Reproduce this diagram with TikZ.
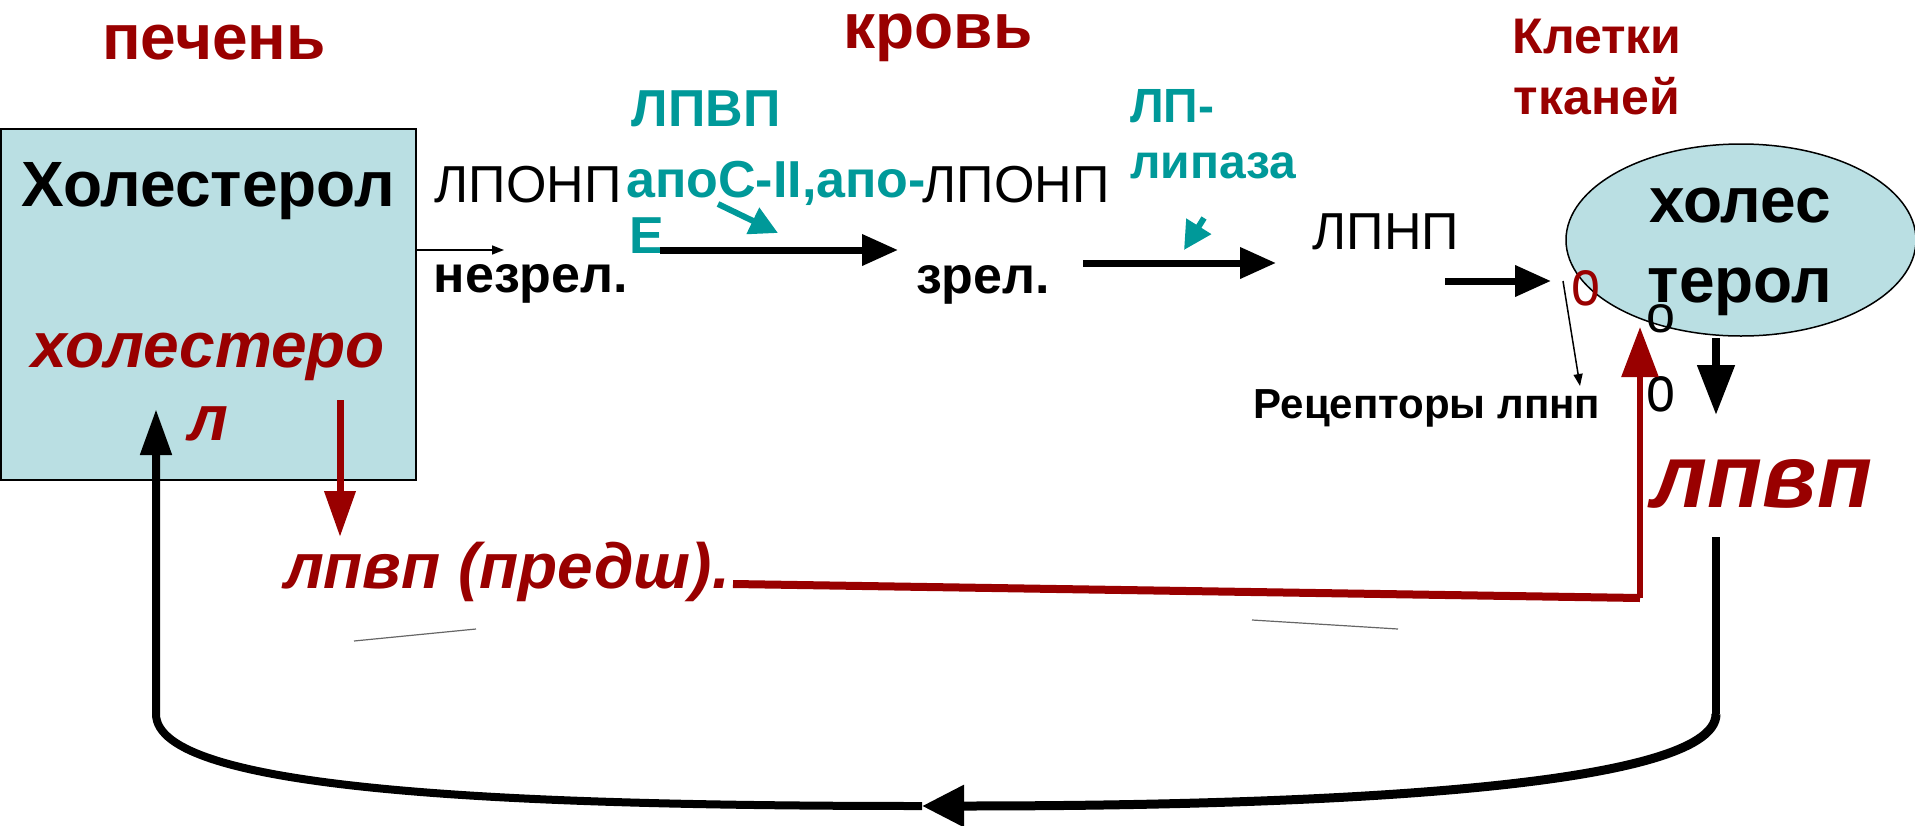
\documentclass[tikz,border=0pt]{standalone}
\usepackage{fontspec}
\usepackage{graphicx}
\setmainfont{Liberation Sans}
\usetikzlibrary{arrows.meta, positioning, shapes.geometric}
\definecolor{liver}   {HTML}{990000}
\definecolor{enzyme}  {HTML}{009999}
\definecolor{cellfill}{HTML}{BADFE3}
\newcommand{\tallo}{\scalebox{1}[1.25]{о}}
\tikzset{
  region/.style  = {font=\fontsize{64}{70}\selectfont\bfseries, text=liver, inner sep=0pt},
  lp/.style      = {font=\fontsize{52}{58}\selectfont, inner sep=0pt},
  lpb/.style     = {font=\fontsize{52}{58}\selectfont\bfseries, inner sep=0pt},
  enz/.style     = {font=\fontsize{52}{58}\selectfont\bfseries, text=enzyme, inner sep=0pt, align=left},
  redit/.style   = {font=\fontsize{64}{73}\selectfont\bfseries\itshape, text=liver, inner sep=0pt},
  arr/.style     = {-{Triangle[length=36pt,width=30pt]}, line width=7pt},
  tarr/.style    = {-{Triangle[length=28pt,width=28pt]}, line width=6pt, enzyme},
  thinarr/.style = {-{Triangle[length=12pt,width=9pt]}, line width=1.5pt},
  longarr/.style = {-{Triangle[length=46pt,width=30pt]}, line width=7pt},
  redline/.style = {liver, line width=8pt},
}

\begin{document}
\begin{tikzpicture}[x=1pt, y=-1pt]
  \useasboundingbox (0,0) rectangle (1915,825);

  % liver
  \node[region] (liver) at (214,43) {печень};
  \node[draw, line width=2pt, fill=cellfill, anchor=north west,
        minimum width=415, minimum height=351] (liverbox) at (0,128) {};
  \node[font=\fontsize{64}{70}\selectfont\bfseries, inner sep=0pt] (chol) at (208,191) {Холестерол};
  \node[redit, align=center] (cholsyn) at (208,387) {холестеро\\л};

  % blood
  \node[region] (blood) at (938,38) {кровь};
  \node[lp]  (vldl)  at (528,185) {ЛПОНП};
  \node[lpb] (immat) at (531,284) {незрел.};
  \node[enz] (hdl)   at (706,109) {ЛПВП};
  \node[enz] (apo)   at (776,183) {апоС-II,апо-};
  \node[enz] (apoE)  at (647,236) {Е};
  \node[lp]  (vldl2) at (1016,185) {ЛПОНП};
  \node[lpb] (mat)   at (983,285) {зрел.};
  \node[enz, font=\fontsize{48}{56}\selectfont\bfseries, anchor=north west]
    (lpl) at (1130,89) {ЛП-\\липаза};

  % tissue cells
  \node[region, font=\fontsize{50}{61}\selectfont\bfseries, align=center]
    (cells) at (1597,67) {Клетки\\тканей};
  \node[ellipse, draw, line width=1.5pt, fill=cellfill, inner sep=0pt,
        minimum width=350, minimum height=192] (cell) at (1741,240) {};
  \node[font=\fontsize{64}{80}\selectfont\bfseries, align=center, inner sep=0pt]
    (cellchol) at (1740,252) {холес\\терол};
  \node[lp] (ldl) at (1386,232) {ЛПНП};
  \node[lp, text=liver] (rec) at (1586,288) {\tallo};
  \node[lp] (o1) at (1661,319) {о};
  \node[lp] (o2) at (1661,394) {\tallo};
  \node[font=\fontsize{42}{46}\selectfont\bfseries, inner sep=0pt] (recl) at (1427,408) {Рецепторы лпнп};
  \node[font=\fontsize{90}{96}\selectfont\bfseries\itshape, text=liver, inner sep=0pt]
    (hdlc) at (1762,484) {лпвп};
  \node[redit] (hdlpre) at (507,572) {лпвп (предш).};

  % connector ends
  \coordinate (boxout)   at (415,250);
  \coordinate (vldlin)   at (504,250);
  \coordinate (m1s)      at (660,250);
  \coordinate (m1e)      at (898,250);
  \coordinate (m2s)      at (1083,263);
  \coordinate (m2e)      at (1276,263);
  \coordinate (apos)     at (718,204);
  \coordinate (apoe)     at (778,233);
  \coordinate (lpls)     at (1204,218);
  \coordinate (lple)     at (1184,250);
  \coordinate (ldls)     at (1445,281);
  \coordinate (ldle)     at (1551,281);
  \coordinate (recs)     at (1563,281);
  \coordinate (rece)     at (1580,386);
  \coordinate (cellout)  at (1716,338);
  \coordinate (cellend)  at (1716,415);
  \coordinate (synout)   at (340,400);
  \coordinate (synend)   at (340,537);
  \coordinate (pre1)     at (733,584);
  \coordinate (redcorner) at (1640,598);
  \coordinate (redtip)   at (1640,327);
  \coordinate (hdlout)   at (1716,537);
  \coordinate (loopR)    at (1716,714);
  \coordinate (loopM)    at (922,806);
  \coordinate (loopL)    at (156,714);
  \coordinate (liverin)  at (156,409);

  % arrows
  \draw[thinarr] (boxout) -- (vldlin);
  \draw[arr] (m1s) -- (m1e);
  \draw[arr] (m2s) -- (m2e);
  \draw[tarr] (apos) -- (apoe);
  \draw[tarr] (lpls) -- (lple);
  \draw[arr] (ldls) -- (ldle);
  \draw[thinarr] (recs) -- (rece);
  \draw[-{Triangle[length=50pt,width=36pt]}, line width=8pt] (cellout) -- (cellend);
  \draw[longarr, liver] (synout) -- (synend);
  \draw[redline] (pre1) -- (redcorner);
  \draw[liver, line width=6pt, -{Triangle[length=50pt,width=36pt]}] (redcorner) -- (redtip);

  % return loop
  \draw[line width=8pt] (hdlout) -- (loopR);
  \draw[line width=9pt, -{Triangle[length=42pt,width=40pt]}]
    (loopR) .. controls (1716,790) and (1300,806) .. (loopM);
  \draw[longarr, line width=8pt]
    (loopM) .. controls (500,806) and (156,790) .. (loopL) -- (liverin);

  % faint strokes
  \coordinate (f1s) at (354,641); \coordinate (f1e) at (476,629);
  \coordinate (f2s) at (1252,620); \coordinate (f2e) at (1398,629);
  \draw[black!60, line width=1.2pt] (f1s) -- (f1e);
  \draw[black!60, line width=1.2pt] (f2s) -- (f2e);
\end{tikzpicture}
\end{document}
